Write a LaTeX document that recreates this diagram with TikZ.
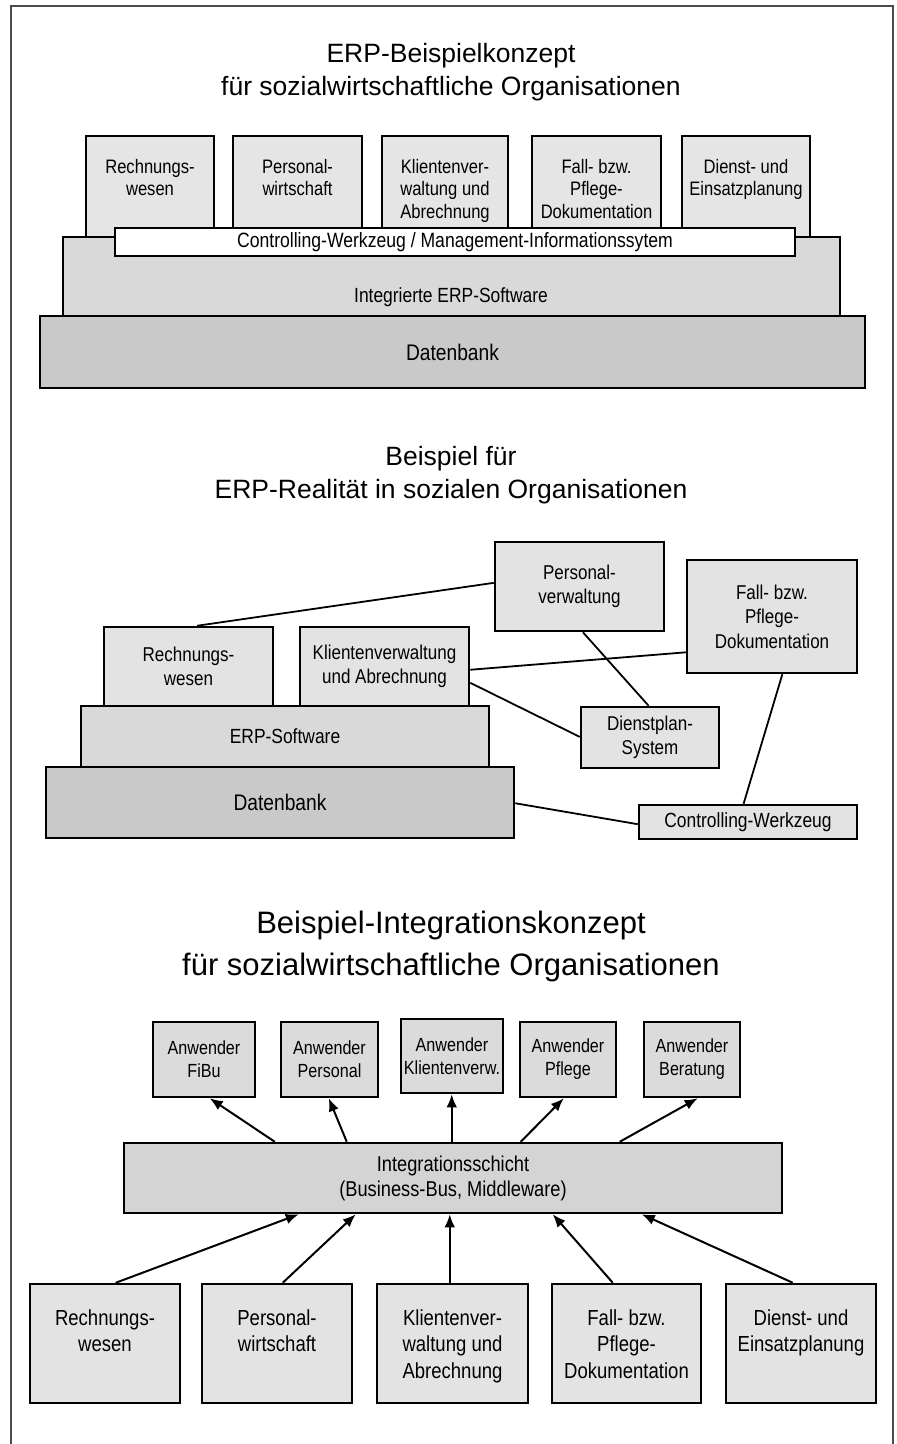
\documentclass[tikz,border=0pt]{standalone}
\usepackage{fontspec}
\setmainfont{Liberation Sans}
\newfontfamily\cf[FakeStretch=0.85]{Liberation Sans}
\usetikzlibrary{calc,arrows.meta}
\newcommand\fsz[2]{\fontsize{#1}{#2}\selectfont}
\newcommand\tl[1]{\begin{tabular}[t]{@{}c@{}}#1\end{tabular}}
\newcommand\rnode[7]{\node[#2,minimum width={(#5-#3)*1pt},minimum height={(#6-#4)*1pt}] (#1) at ({(#3+#5)/2},{(#4+#6)/2}) {#7};}
\begin{document}
\begin{tikzpicture}[x=1pt,y=-1pt,
  box/.style={draw=black,line width=2.5pt,inner sep=0pt,align=center},
  toplight/.style={box,fill=black!10},
  topmid/.style={box,fill=black!15},
  topdark/.style={box,fill=black!21,font=\cf\fsz{22.6}{27}},
  whitebar/.style={box,fill=white,font=\cf\fsz{20.7}{23}},
  mlight/.style={box,fill=black!11,font=\cf\fsz{20}{24.5}},
  mmid/.style={box,fill=black!15,font=\cf\fsz{20.5}{25}},
  mdark/.style={box,fill=black!21,font=\cf\fsz{22.6}{27}},
  anw/.style={box,fill=black!14,font=\cf\fsz{19}{23}},
  integ/.style={box,fill=black!17,font=\cf\fsz{21.5}{25}},
  blight/.style={box,fill=black!11},
  ttext/.style={anchor=base,inner sep=0pt,font=\cf\fsz{19.5}{22.5}},
  btext/.style={anchor=base,inner sep=0pt,font=\cf\fsz{21.8}{26.5}},
  titleA/.style={anchor=base,inner sep=0pt,font=\fsz{26.5}{33}},
  titleB/.style={anchor=base,inner sep=0pt,font=\fsz{31}{42}},
  conn/.style={line width=1.8pt},
  arr/.style={line width=2pt,-{Latex[length=13pt,width=10.5pt]}}]
\useasboundingbox (0,0) rectangle (897,1444);
% frame
\draw[line width=1.8pt,black!70] (11,1444) -- (11,6) -- (893,6) -- (893,1444);

% ---------- Section 1 ----------
\node[titleA] (h1) at (451,62) {\tl{ERP-Beispielkonzept\\für sozialwirtschaftliche Organisationen}};
\rnode{t1}{toplight}{86}{136}{214}{237}{}
\rnode{t2}{toplight}{233}{136}{362}{237}{}
\rnode{t3}{toplight}{382}{136}{508}{237}{}
\rnode{t4}{toplight}{532}{136}{661}{237}{}
\rnode{t5}{toplight}{682}{136}{810}{237}{}
\rnode{erp1}{topmid}{63}{237}{840}{316}{}
\rnode{db1}{topdark}{40}{316}{865}{388}{Datenbank}
\rnode{bar}{whitebar}{115}{228}{795}{256}{Controlling-Werkzeug / Management-Informationssytem}
\node[ttext] (t1l) at (150,173) {\tl{Rechnungs-\\wesen}};
\node[ttext] (t2l) at (297.5,173) {\tl{Personal-\\wirtschaft}};
\node[ttext] (t3l) at (445,173) {\tl{Klientenver-\\waltung und\\Abrechnung}};
\node[ttext] (t4l) at (596.5,173) {\tl{Fall- bzw.\\Pflege-\\Dokumentation}};
\node[ttext] (t5l) at (746,173) {\tl{Dienst- und\\Einsatzplanung}};
\node[ttext,font=\cf\fsz{20.5}{24}] (erp1l) at (451,302) {Integrierte ERP-Software};

% ---------- Section 2 ----------
\node[titleA] (h2) at (451,465) {\tl{Beispiel für\\ERP-Realität in sozialen Organisationen}};
\rnode{pv}{mlight}{495}{542}{664}{631}{Personal-\\verwaltung}
\rnode{fp}{mlight}{687}{560}{857}{673}{Fall- bzw.\\Pflege-\\Dokumentation}
\rnode{rw}{mlight}{104}{627}{273}{706}{Rechnungs-\\wesen}
\rnode{kv}{mlight}{300}{627}{469}{706}{Klientenverwaltung\\und Abrechnung}
\rnode{erp2}{mmid}{81}{706}{489}{767}{ERP-Software}
\rnode{db2}{mdark}{46}{767}{514}{838}{Datenbank}
\rnode{dp}{mlight}{581}{707}{719}{768}{Dienstplan-\\System}
\rnode{cw}{mlight,font=\cf\fsz{20.5}{25}}{639}{805}{857}{839}{Controlling-Werkzeug}
\draw[conn] ($(rw.north west)!0.55!(rw.north east)$) -- ($(pv.north west)!0.46!(pv.south west)$);
\draw[conn] ($(kv.north east)!0.54!(kv.south east)$) -- ($(fp.north west)!0.81!(fp.south west)$);
\draw[conn] ($(kv.north east)!0.70!(kv.south east)$) -- ($(dp.north west)!0.49!(dp.south west)$);
\draw[conn] ($(pv.south west)!0.52!(pv.south east)$) -- ($(dp.north west)!0.49!(dp.north east)$);
\draw[conn] ($(fp.south west)!0.56!(fp.south east)$) -- ($(cw.north west)!0.48!(cw.north east)$);
\draw[conn] ($(db2.north east)!0.51!(db2.south east)$) -- ($(cw.north west)!0.56!(cw.south west)$);

% ---------- Section 3 ----------
\node[titleB] (h3) at (451,933) {\tl{Beispiel-Integrationskonzept\\für sozialwirtschaftliche Organisationen}};
\rnode{a1}{anw}{153}{1022}{255}{1097}{Anwender\\FiBu}
\rnode{a2}{anw}{281}{1022}{378}{1097}{Anwender\\Personal}
\rnode{a3}{anw}{401}{1019}{503}{1093}{Anwender\\Klientenverw.}
\rnode{a4}{anw}{520}{1022}{616}{1097}{Anwender\\Pflege}
\rnode{a5}{anw}{644}{1022}{740}{1097}{Anwender\\Beratung}
\rnode{int}{integ}{124}{1143}{782}{1213}{Integrationsschicht\\(Business-Bus, Middleware)}
\rnode{b1}{blight}{30}{1284}{180}{1403}{}
\rnode{b2}{blight}{202}{1284}{352}{1403}{}
\rnode{b3}{blight}{377}{1284}{528}{1403}{}
\rnode{b4}{blight}{552}{1284}{701}{1403}{}
\rnode{b5}{blight}{726}{1284}{876}{1403}{}
\node[btext] (b1l) at (105,1325) {\tl{Rechnungs-\\wesen}};
\node[btext] (b2l) at (277,1325) {\tl{Personal-\\wirtschaft}};
\node[btext] (b3l) at (452.5,1325) {\tl{Klientenver-\\waltung und\\Abrechnung}};
\node[btext] (b4l) at (626.5,1325) {\tl{Fall- bzw.\\Pflege-\\Dokumentation}};
\node[btext] (b5l) at (801,1325) {\tl{Dienst- und\\Einsatzplanung}};
\draw[arr] ($(int.north west)+(152,0)$) -- ($(a1.south west)+(58,0)$);
\draw[arr] ($(int.north west)+(224,0)$) -- ($(a2.south west)+(49,0)$);
\draw[arr] ($(int.north west)+(329,0)$) -- ($(a3.south west)+(52,0)$);
\draw[arr] ($(int.north west)+(398,0)$) -- ($(a4.south west)+(45,0)$);
\draw[arr] ($(int.north west)+(497,0)$) -- ($(a5.south west)+(55,0)$);
\draw[arr] ($(b1.north west)+(87,0)$) -- ($(int.south west)+(176,0)$);
\draw[arr] ($(b2.north west)+(82,0)$) -- ($(int.south west)+(233,0)$);
\draw[arr] ($(b3.north west)+(74,0)$) -- ($(int.south west)+(327,0)$);
\draw[arr] ($(b4.north west)+(62,0)$) -- ($(int.south west)+(430,0)$);
\draw[arr] ($(b5.north west)+(68,0)$) -- ($(int.south west)+(519,0)$);
\end{tikzpicture}
\end{document}
